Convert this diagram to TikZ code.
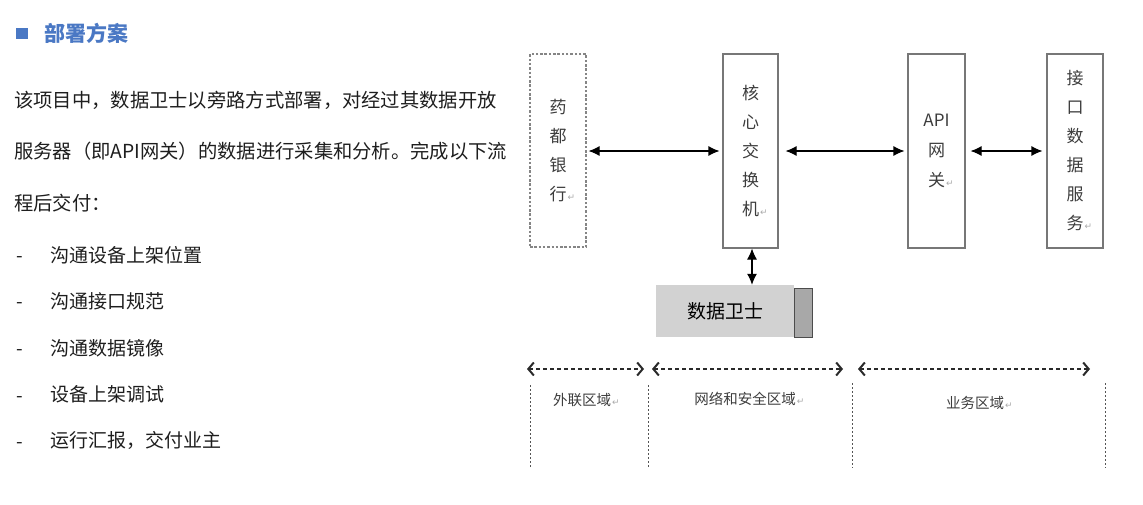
\documentclass[tikz,border=0pt]{standalone}
\usepackage{fontspec}
\setmainfont{Noto Sans CJK SC}
\newfontfamily\symfont{DejaVu Sans}
\usetikzlibrary{arrows.meta}
\definecolor{titleblue}{HTML}{4A78C4}
\definecolor{bodyc}{HTML}{1E1E1E}
\definecolor{boxc}{HTML}{777777}
\definecolor{boxtext}{HTML}{3C3C3C}
\definecolor{retgray}{HTML}{AAAAAA}
\definecolor{guardfill}{HTML}{D2D2D2}
\definecolor{guardside}{HTML}{A8A8A8}
\definecolor{zonec}{HTML}{2A2A2A}
\newcommand{\retmark}{\rlap{\kern1pt{\symfont\fontsize{9}{9}\selectfont\color{retgray}↵}}}
\begin{document}
\begin{tikzpicture}[x=1pt,y=-1pt,
  body/.style={anchor=west, inner sep=0pt, text=bodyc, font=\fontsize{19.3}{19.3}\selectfont},
  listitem/.style={anchor=west, inner sep=0pt, text=bodyc, font=\fontsize{19}{19}\selectfont},
  vbox/.style={draw=boxc, line width=1.1pt, inner sep=0pt, align=center, text=boxtext,
    minimum width=56pt, minimum height=194pt, font=\fontsize{17}{29}\selectfont},
  biarrow/.style={line width=1.1pt, draw=black, {Latex[length=11pt,width=10pt]}-{Latex[length=11pt,width=10pt]}},
  zonearrow/.style={line width=1.8pt, draw=zonec, dash pattern=on 4pt off 3pt,
    {Straight Barb[length=5.5pt,width=13pt,line width=2pt]}-{Straight Barb[length=5.5pt,width=13pt,line width=2pt]}},
  zoneline/.style={line width=1pt, draw=zonec!80, dash pattern=on 2pt off 2pt},
  zonelabel/.style={inner sep=0pt, text=boxtext, font=\fontsize{14.5}{14.5}\selectfont}
]
\useasboundingbox (0,0) rectangle (1143,504);

% ---------- left text ----------
\fill[titleblue] (16,28) rectangle (28,39);
\node[anchor=west, inner sep=0pt, text=titleblue, font=\fontsize{21}{21}\selectfont\bfseries] (title) at (44,33) {部署方案};

\node[body] (p1) at (14,100) {该项目中，数据卫士以旁路方式部署，对经过其数据开放};
\node[body] (p2) at (14,151) {服务器（即API网关）的数据进行采集和分析。完成以下流};
\node[body] (p3) at (14,203) {程后交付：};

\foreach \yy/\txt [count=\i] in {255/沟通设备上架位置, 301/沟通接口规范, 348/沟通数据镜像, 394/设备上架调试, 440/{运行汇报，交付业主}}{
  \node[listitem] (dash\i) at (16,\yy+5) {-};
  \node[listitem] (item\i) at (50,\yy) {\txt};
}

% ---------- diagram boxes ----------
\node[vbox, draw=boxc!90, dash pattern=on 2.5pt off 1.8pt, minimum height=193pt] (bank) at (558,150.5) {药\\都\\银\\行\retmark};
\node[vbox, minimum width=55pt] (core) at (750.5,151) {核\\心\\交\\换\\机\retmark};
\node[vbox, minimum width=57pt, font=\fontsize{17}{30}\selectfont] (api) at (936.5,151) {API\\网\\关\retmark};
\node[vbox] (iface) at (1075,151) {接\\口\\数\\据\\服\\务\retmark};

% data guard
\filldraw[fill=guardside, draw=black!70, line width=0.9pt] (794,288) rectangle (812,337);
\node[fill=guardfill, inner sep=0pt, minimum width=138pt, minimum height=52pt,
  text=black, font=\fontsize{19}{19}\selectfont] (guard) at (725,311) {数据卫士};

% connectors
\draw[biarrow] ([xshift=2pt]bank.east |- core.west) -- ([xshift=-3pt]core.west);
\draw[biarrow] ([xshift=7pt]core.east) -- ([xshift=-3pt]api.west);
\draw[biarrow] ([xshift=5pt]api.east) -- ([xshift=-4pt]iface.west);
\draw[biarrow] ([xshift=1.5pt]core.south) -- ([xshift=1.5pt]core.south |- guard.north);

% ---------- zones ----------
\coordinate (z1a) at (527,369); \coordinate (z1b) at (644,369);
\coordinate (z2a) at (652,369); \coordinate (z2b) at (843,369);
\coordinate (z3a) at (858,369); \coordinate (z3b) at (1090,369);
\draw[zonearrow] (z1a) -- (z1b);
\draw[zonearrow] (z2a) -- (z2b);
\draw[zonearrow] (z3a) -- (z3b);

\coordinate (v1a) at (530,385); \coordinate (v1b) at (530,468);
\coordinate (v2a) at (648,385); \coordinate (v2b) at (648,468);
\coordinate (v3a) at (852,383); \coordinate (v3b) at (852,468);
\coordinate (v4a) at (1105,383); \coordinate (v4b) at (1105,468);
\draw[zoneline] (v1a) -- (v1b);
\draw[zoneline] (v2a) -- (v2b);
\draw[zoneline] (v3a) -- (v3b);
\draw[zoneline] (v4a) -- (v4b);

\node[zonelabel] (zl1) at (582,400) {外联区域\retmark};
\node[zonelabel] (zl2) at (745,399) {网络和安全区域\retmark};
\node[zonelabel] (zl3) at (975,403) {业务区域\retmark};
\end{tikzpicture}
\end{document}
